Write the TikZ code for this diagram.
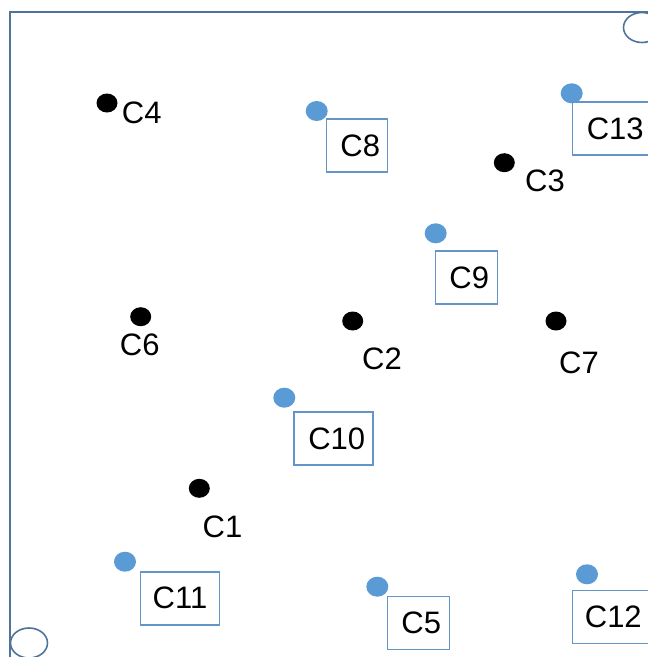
\documentclass[tikz,border=0pt]{standalone}
\usepackage{fontspec}
\setmainfont{Liberation Sans}
\usetikzlibrary{shapes.geometric}
\begin{document}
\begin{tikzpicture}[x=1pt,y=-1pt,
  blackdot/.style={ellipse,fill=black,minimum width=21pt,minimum height=19pt,inner sep=0pt},
  bluedot/.style={ellipse,fill=dotblue,minimum width=22pt,minimum height=20pt,inner sep=0pt},
  lbl/.style={inner sep=0pt,font=\fontsize{31}{32}\selectfont},
  cbox/.style={draw=boxblue,line width=1.5pt,minimum height=53pt,inner sep=0pt,font=\fontsize{31}{32}\selectfont},
  corner/.style={draw=framecol,line width=1.6pt,ellipse,minimum width=37pt,minimum height=30pt,inner sep=0pt}
]
\definecolor{dotblue}{HTML}{5B9BD5}
\definecolor{boxblue}{HTML}{6495C8}
\definecolor{framecol}{HTML}{50739A}
\useasboundingbox (0,0) rectangle (648,657);
\clip (0,0) rectangle (648,657);
% frame
\coordinate (ftl) at (10,12);
\coordinate (ftr) at (660,12);
\coordinate (fbl) at (10,670);
\draw[framecol,line width=1.8pt] (fbl) -- (ftl) -- (ftr);
\node[corner] (ctr) at (642,27.5) {};
\node[corner] (cbl) at (29,643) {};
% black points
\node[blackdot] (d4) at (107,103) {};
\node[lbl] (t4) at (141.7,112.5) {C4};
\node[blackdot] (d3) at (504.3,162.7) {};
\node[lbl] (t3) at (545,181) {C3};
\node[blackdot] (d6) at (140.7,316.7) {};
\node[lbl] (t6) at (139.7,345) {C6};
\node[blackdot] (d2) at (352.7,321) {};
\node[lbl] (t2) at (382,359) {C2};
\node[blackdot] (d7) at (556,321) {};
\node[lbl] (t7) at (579,362.5) {C7};
\node[blackdot] (d1) at (199.3,488.3) {};
\node[lbl] (t1) at (222.5,527) {C1};
% blue points with boxes
\node[bluedot] (d8) at (316.7,111) {};
\node[cbox,minimum width=61pt] (b8) at (357.2,145.5) {\hspace{6pt}C8};
\node[bluedot] (d13) at (571.7,93.3) {};
\node[cbox,minimum width=79pt] (b13) at (612.2,128.7) {\hspace{6pt}C13};
\node[bluedot] (d9) at (435.7,233.3) {};
\node[cbox,minimum width=62pt] (b9) at (466.3,277.7) {\hspace{6pt}C9};
\node[bluedot] (d10) at (284.3,397.7) {};
\node[cbox,minimum width=79pt] (b10) at (333.7,438.7) {\hspace{6pt}C10};
\node[bluedot] (d11) at (125,561.7) {};
\node[cbox,minimum width=79pt] (b11) at (180,598.3) {C11};
\node[bluedot] (d5) at (377.3,586.7) {};
\node[cbox,minimum width=62pt] (b5) at (418.3,623) {\hspace{6pt}C5};
\node[bluedot] (d12) at (587,574.3) {};
\node[cbox,minimum width=79pt] (b12) at (611.8,617) {\hspace{3pt}C12};
\end{tikzpicture}
\end{document}
